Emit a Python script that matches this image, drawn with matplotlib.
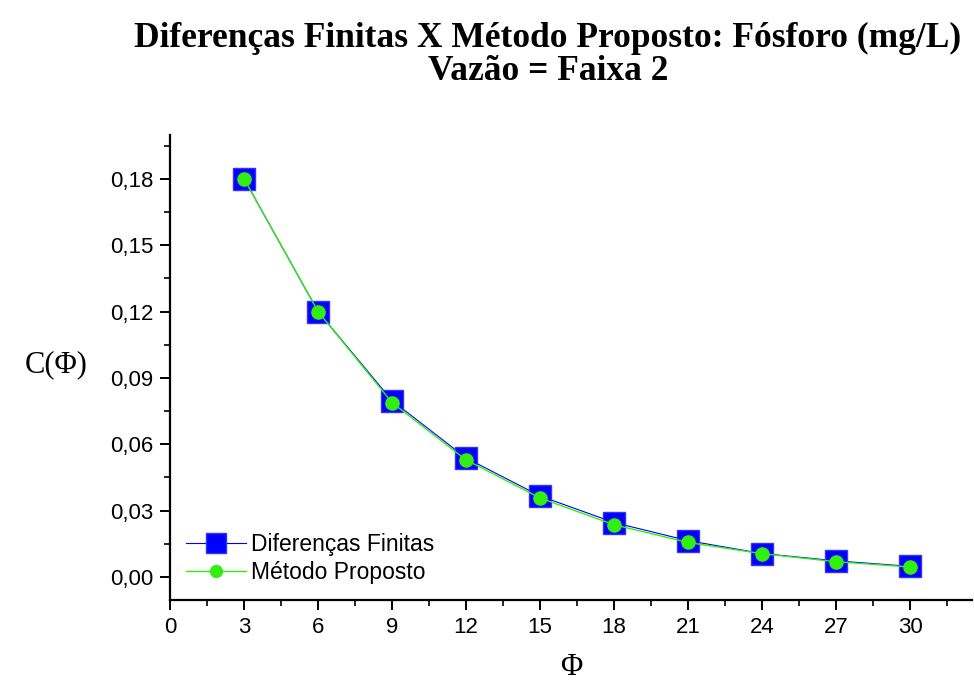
import matplotlib
matplotlib.use("Agg")
import matplotlib.pyplot as plt
from matplotlib.ticker import MultipleLocator, FuncFormatter

phi = [3, 6, 9, 12, 15, 18, 21, 24, 27, 30]
dif_finitas = [0.180, 0.120, 0.0797, 0.0538, 0.0366, 0.0246, 0.0164, 0.0106, 0.0073, 0.0048]
metodo_proposto = [0.180, 0.120, 0.0788, 0.0529, 0.0357, 0.0236, 0.0156, 0.0105, 0.0069, 0.0045]
x_ticks = [0, 3, 6, 9, 12, 15, 18, 21, 24, 27, 30]
y_ticks = [0.0, 0.03, 0.06, 0.09, 0.12, 0.15, 0.18]

plt.rcParams["font.family"] = ["Liberation Sans", "DejaVu Sans"]

fig = plt.figure(figsize=(9.74, 6.84), dpi=100)
ax = fig.add_axes([170 / 974, 1 - 600 / 684, (972 - 170) / 974, (600 - 135) / 684])

ax.plot(phi, dif_finitas, color="#0000ff", lw=0.8, marker="s", ms=15.5,
        mfc="#0000ff", mec="#3333ff", label="Diferenças Finitas")
ax.plot(phi, metodo_proposto, color="#33ee11", lw=1.0, marker="o", ms=9.5,
        mfc="#33ee11", mec="#33ee11", label="Método Proposto")

ax.set_xlim(0, 32.5)
ax.set_ylim(-0.0104, 0.1998)
ax.set_xticks(x_ticks)
ax.set_yticks(y_ticks)
ax.xaxis.set_minor_locator(MultipleLocator(1.5))
ax.yaxis.set_minor_locator(MultipleLocator(0.015))
ax.yaxis.set_major_formatter(FuncFormatter(lambda v, p: f"{v:.2f}".replace(".", ",")))

for side in ["top", "right"]:
    ax.spines[side].set_visible(False)
for side in ["left", "bottom"]:
    ax.spines[side].set_linewidth(1.6)
ax.tick_params(which="major", length=7, width=1.4, labelsize=16, pad=5)
ax.tick_params(which="minor", length=4, width=1.2)

ax.set_xlabel("Φ", family="Liberation Serif", fontsize=22, labelpad=11)
ax.set_ylabel("C(Φ)", family="Liberation Serif", fontsize=22, rotation=0, labelpad=0)
ax.yaxis.set_label_coords(-0.142, 0.475)

leg = ax.legend(loc="lower left", bbox_to_anchor=(0.0, 0.0), frameon=False,
                fontsize=16.5, handlelength=2.6, handletextpad=0.25, labelspacing=0.2,
                markerscale=0.9, borderaxespad=0.3)

fig.text(0.5625, 0.968, "Diferenças Finitas X Método Proposto: Fósforo (mg/L)\nVazão = Faixa 2",
         ha="center", va="top", family="Liberation Serif", fontweight="bold",
         fontsize=25.5, linespacing=1.0)

fig.savefig("out.png", dpi=100)
